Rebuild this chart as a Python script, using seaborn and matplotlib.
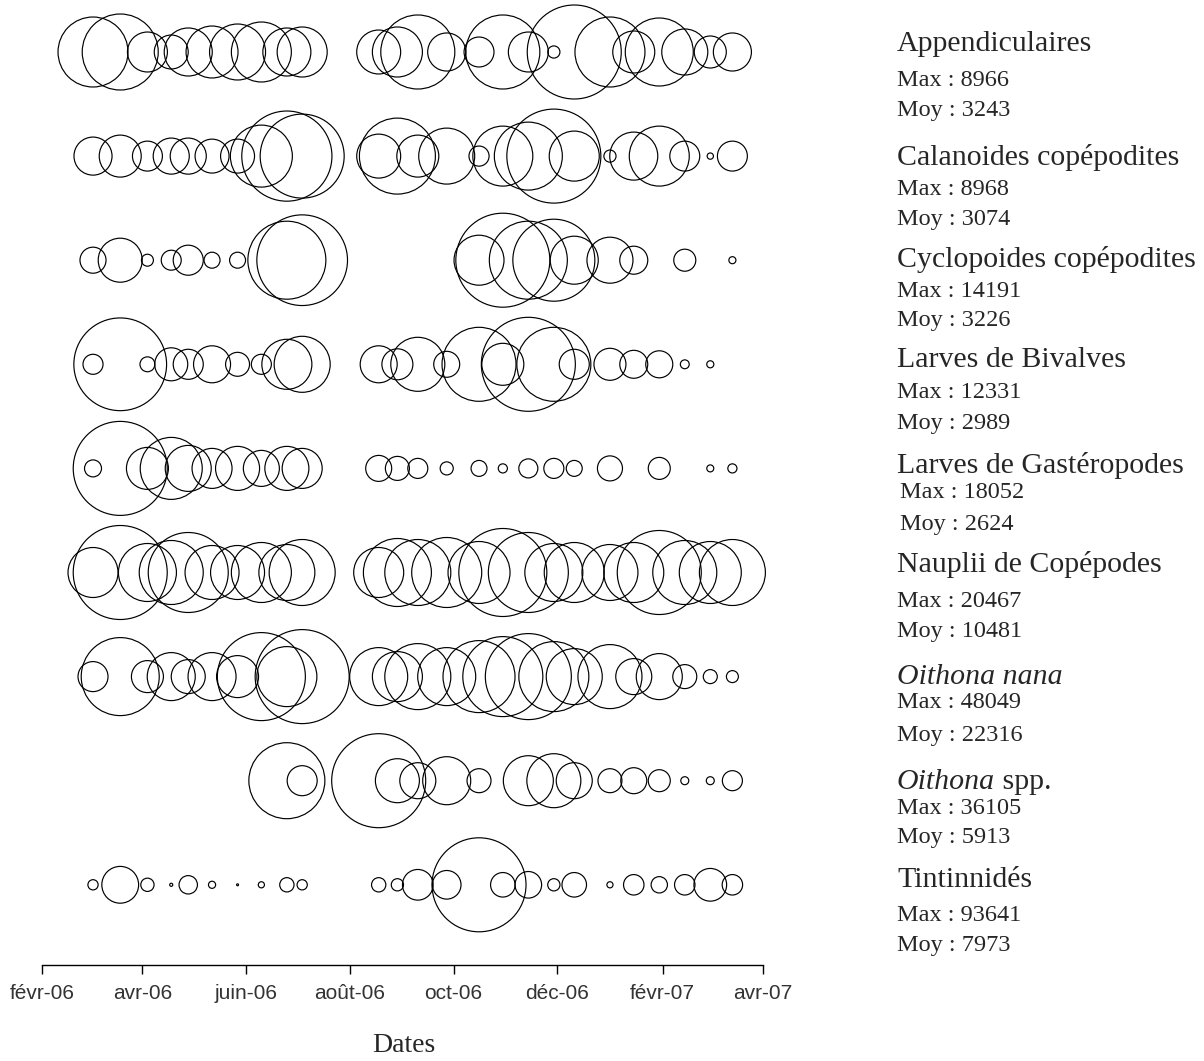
import pandas as pd
import matplotlib
matplotlib.use("Agg")
import matplotlib.pyplot as plt
import seaborn as sns

# --Données (abondances)--
dates = ["2006-03-03", "2006-03-19", "2006-04-04", "2006-04-18", "2006-04-28",
         "2006-05-12", "2006-05-27", "2006-06-10", "2006-06-25", "2006-07-04",
         "2006-08-18", "2006-08-29", "2006-09-10", "2006-09-27", "2006-10-16",
         "2006-10-30", "2006-11-14", "2006-11-29", "2006-12-11", "2007-01-01",
         "2007-01-15", "2007-01-30", "2007-02-14", "2007-03-01", "2007-03-14"]

taxons = ["Appendiculaires", "Calanoides copépodites", "Cyclopoides copépodites",
          "Larves de Bivalves", "Larves de Gastéropodes", "Nauplii de Copépodes",
          "Oithona nana", "Oithona spp.", "Tintinnidés"]
maxima = [8966, 8968, 14191, 12331, 18052, 20467, 48049, 36105, 93641]
moyennes = [3243, 3074, 3226, 2989, 2624, 10481, 22316, 5913, 7973]

appendiculaires = [4970, 5860, 1620, 1170, 2340, 2740, 3180, 3650, 2340, 2540,
                   1960, 2540, 5560, 1470, 910, 5560, 1620, 150, 8966, 4970,
                   1790, 4690, 2150, 1040, 1470]
calanoides = [1470, 1790, 910, 1320, 1320, 1170, 1170, 3900, 8250, 7160,
              1960, 5860, 1790, 3180, 410, 3650, 4690, 8968, 2540, 150,
              2340, 3650, 910, 40, 910]
cyclopoides = [1090, 3110, 230, 640, 1450, 410, 410, 0, 9770, 13200,
               0, 0, 0, 0, 4010, 14191, 9770, 10800, 3700, 3400,
               1260, 0, 780, 0, 80]
bivalves = [560, 12000, 310, 1520, 1260, 1910, 800, 560, 3490, 4380,
            1910, 1340, 4070, 940, 7640, 2460, 12331, 7640, 1260, 1430,
            1090, 1020, 110, 70, 0]
gasteropodes = [590, 18052, 3600, 7850, 4320, 3270, 3960, 2650, 3960, 3270,
                1380, 1180, 820, 350, 520, 170, 740, 820, 520, 1280,
                0, 990, 0, 100, 170]
nauplii = [5790, 20467, 7790, 9490, 14820, 6750, 6750, 8340, 7260, 10090,
           5790, 10710, 10090, 11350, 8900, 17940, 14820, 7790, 8340, 7260,
           8340, 16350, 9490, 8900, 10090]
oithona_nana = [4900, 33080, 5570, 12530, 6290, 12530, 9590, 42110, 19580, 48049,
                18290, 13590, 23690, 18290, 28190, 34800, 40220, 26640, 17050, 22280,
                7050, 11510, 3130, 1070, 780]
oithona_spp = [0, 0, 0, 0, 0, 0, 0, 0, 23600, 3680,
               36105, 7910, 5300, 9420, 2350, 0, 10210, 11910, 5300, 2350,
               2760, 1980, 260, 260, 1640]
tintinnides = [1110, 14340, 1870, 100, 3580, 540, 40, 400, 2170, 1110,
               2170, 1590, 9960, 8670, 93641, 6370, 7480, 1590, 6370, 400,
               4430, 2830, 4430, 11330, 4430]

series = [appendiculaires, calanoides, cyclopoides, bivalves, gasteropodes,
          nauplii, oithona_nana, oithona_spp, tintinnides]

tick_dates = ["2006-02-01", "2006-04-01", "2006-06-01", "2006-08-01",
              "2006-10-01", "2006-12-01", "2007-02-01", "2007-04-01"]
tick_labels = ["févr-06", "avr-06", "juin-06", "août-06",
               "oct-06", "déc-06", "févr-07", "avr-07"]

# --Tableau long--
lignes = []
for i, valeurs in enumerate(series):
    for d, v in zip(dates, valeurs):
        if v > 0:
            lignes.append({"date": pd.Timestamp(d), "rang": i,
                           "rel": v / maxima[i]})
df = pd.DataFrame(lignes)

# --Figure--
W, H = 1204, 1061
sns.set_style("white")
plt.rcParams["font.family"] = ["Liberation Serif", "DejaVu Serif"]

fig = plt.figure(figsize=(W / 100, H / 100), dpi=100)
ax = fig.add_axes([42 / W, 1 - 965 / H, (763 - 42) / W, 965 / H])

r_max = 47  # rayon (px) du plus gros cercle
s_max = (2 * r_max * 0.72) ** 2
sns.scatterplot(data=df, x="date", y="rang", size="rel", sizes=(0, s_max),
                size_norm=(0, 1), facecolor="none", edgecolor="black",
                linewidth=0.85, legend=False, ax=ax, clip_on=False)
for coll in ax.collections:
    coll.set_facecolor("none")
    coll.set_edgecolor("black")

ax.set_xlim(pd.Timestamp(tick_dates[0]), pd.Timestamp(tick_dates[-1]))
ax.set_ylim((965 - 52) / 104.1, -52 / 104.1)
ax.set_xticks([pd.Timestamp(d) for d in tick_dates])
ax.set_xticklabels(tick_labels, family="Liberation Sans", fontsize=15)
ax.set_yticks([])
ax.set_xlabel("")
ax.set_ylabel("")
for cote in ["left", "top", "right"]:
    ax.spines[cote].set_visible(False)
ax.spines["bottom"].set_color("black")
ax.spines["bottom"].set_linewidth(1)
ax.tick_params(axis="x", bottom=True, direction="out", length=6.5, width=1,
               color="black", pad=7, labelcolor="#333333")

fig.text(404 / W, 1 - 1045 / H, "Dates", ha="center", va="center", fontsize=20)

# --Etiquettes à droite--
titre_y = [51, 165, 267, 367, 473, 572, 684, 789, 887]
max_y = [86, 195, 297, 398, 498, 607, 708, 814, 921]
moy_y = [116, 225, 326, 429, 530, 637, 741, 843, 951]
x0 = 897 / W
for i, nom in enumerate(taxons):
    dx = 3 / W if i == 4 else 0
    if nom == "Oithona nana":
        fig.text(x0, 1 - titre_y[i] / H, nom, style="italic", fontsize=21.5,
                 va="baseline")
    elif nom == "Oithona spp.":
        t = fig.text(x0, 1 - titre_y[i] / H, "Oithona", style="italic",
                     fontsize=21.5, va="baseline")
        ax.annotate(" spp.", xy=(1, 0), xycoords=t, va="bottom", ha="left",
                    fontsize=21.5)
    else:
        fig.text(x0, 1 - titre_y[i] / H, nom, fontsize=21.5, va="baseline")
    fig.text(x0 + dx, 1 - max_y[i] / H, f"Max : {maxima[i]}", fontsize=17.5,
             va="baseline")
    fig.text(x0 + dx, 1 - moy_y[i] / H, f"Moy : {moyennes[i]}", fontsize=17.5,
             va="baseline")

fig.savefig("out.png", dpi=100)
